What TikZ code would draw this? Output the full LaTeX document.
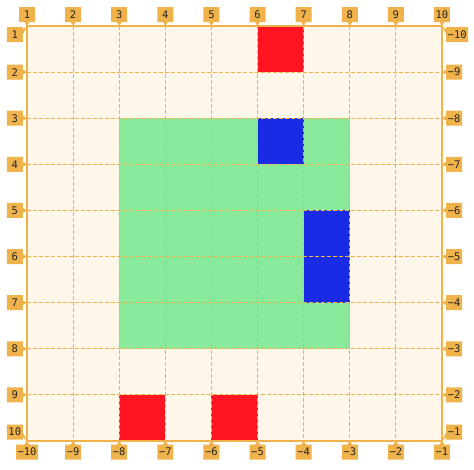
\documentclass[tikz,border=0pt]{standalone}
\usepackage{fontspec}
\newfontfamily\gridfont{DejaVu Sans Mono}
\usetikzlibrary{shapes.callouts}
\definecolor{tagAmber}{HTML}{F0B24A}
\definecolor{cellBg}{HTML}{FEF7EA}
\definecolor{cellRed}{HTML}{FF1521}
\definecolor{cellBlue}{HTML}{1A2BE6}
\definecolor{cellGreen}{HTML}{89EA9B}

\begin{document}
\begin{tikzpicture}[x=1pt, y=-1pt,
  gridline/.style={tagAmber, line width=0.9pt, dash pattern=on 4pt off 2pt},
  frameline/.style={tagAmber, line width=1.2pt},
  tag/.style={rectangle callout, fill=tagAmber, text=black!85,
    font=\gridfont\fontsize{10.5}{12}\selectfont,
    inner xsep=1.5pt, inner ysep=0pt, minimum width=16pt, minimum height=15pt,
    callout pointer width=5pt}
]
  \useasboundingbox (0,0) rectangle (474,469);
  %% --- geometry (pixels, y downwards) ---
  \def\gx{27}      % left edge of the grid
  \def\gy{26}      % top edge of the grid
  \def\st{46.11}   % cell size

  %% one cell, counted from 1 in column and row
  \newcommand{\fillcell}[3]{%
    \fill[#3] ({\gx+(#1-1)*\st},{\gy+(#2-1)*\st}) rectangle ++(\st,\st);
  }

  %% --- background and coloured cells ---
  \fill[cellBg] (\gx,\gy) rectangle ({\gx+9*\st},{\gy+9*\st});
  \fill[cellGreen] ({\gx+2*\st},{\gy+2*\st}) rectangle ({\gx+7*\st},{\gy+7*\st});
  \fillcell{6}{1}{cellRed}
  \fillcell{6}{3}{cellBlue}
  \fillcell{7}{5}{cellBlue}
  \fillcell{7}{6}{cellBlue}
  \fillcell{3}{9}{cellRed}
  \fillcell{5}{9}{cellRed}

  %% --- dashed grid over everything, solid frame ---
  \foreach \k in {1,...,8} {
    \draw[gridline] ({\gx+\k*\st},\gy) -- ({\gx+\k*\st},{\gy+9*\st});
    \draw[gridline] (\gx,{\gy+\k*\st}) -- ({\gx+9*\st},{\gy+\k*\st});
  }
  \draw[frameline] (\gx,\gy) rectangle ({\gx+9*\st},{\gy+9*\st});

  %% --- tags: 1..10 on top and left, -10..-1 on bottom and right ---
  \foreach \lab/\neg [count=\i] in {1/−10, 2/−9, 3/−8, 4/−7, 5/−6,
                                    6/−5, 7/−4, 8/−3, 9/−2, 10/−1} {
    \pgfmathsetmacro{\lx}{\gx+(\i-1)*\st}
    \pgfmathsetmacro{\ly}{\gy+(\i-1)*\st}
    \pgfmathsetmacro{\ty}{min(max(\ly,34.5),432)}
    \node[tag, callout absolute pointer={(\lx,\gy)}] (top\i) at (\lx,14.5) {\lab};
    \node[tag, anchor=east, callout absolute pointer={(\gx,\ly)}] (lft\i) at (23,\ty) {\lab};
    \node[tag, callout absolute pointer={(\lx,{\gy+9*\st})}] (bot\i) at (\lx,452) {\neg};
    \node[tag, anchor=west, callout absolute pointer={({\gx+9*\st},\ly)}] (rgt\i) at (446,\ty) {\neg};
  }
\end{tikzpicture}
\end{document}
